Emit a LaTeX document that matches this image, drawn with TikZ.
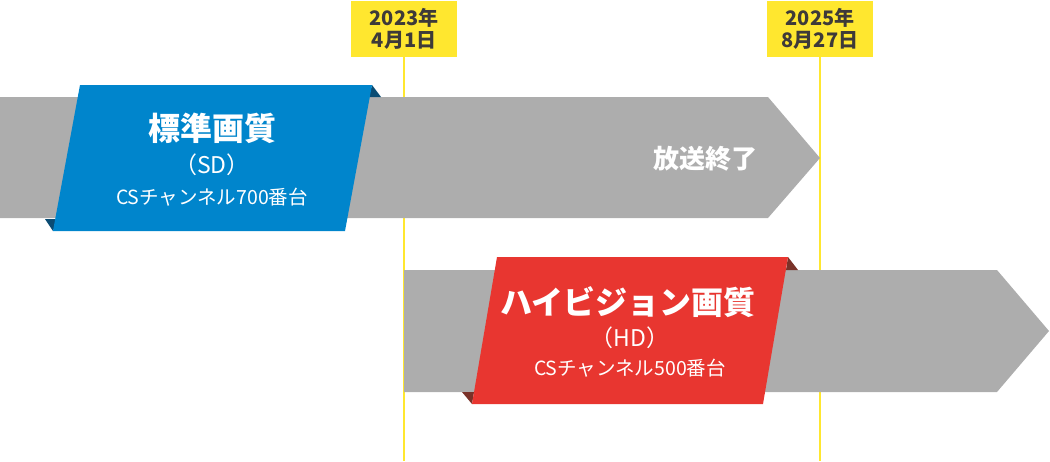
\documentclass[tikz,border=0pt]{standalone}
\usepackage{fontspec}
\setmainfont{Noto Sans CJK JP}
\definecolor{band}{HTML}{ADADAD}
\definecolor{sdblue}{HTML}{0085CC}
\definecolor{sdfold}{HTML}{0B4C73}
\definecolor{hdred}{HTML}{E83630}
\definecolor{hdfold}{HTML}{7A3229}
\definecolor{dateyel}{HTML}{FFE72F}
\definecolor{datetxt}{HTML}{3E3A39}
\begin{document}
\begin{tikzpicture}[x=1pt,y=-1pt,
  datebox/.style={fill=dateyel, text=datetxt, font=\bfseries\fontsize{20}{22}\selectfont,
    minimum width=106pt, minimum height=56pt, inner sep=0pt, align=center},
  dateline/.style={draw=dateyel, line width=1.6pt},
  titletxt/.style={text=white, font=\bfseries\fontsize{32}{36}\selectfont, inner sep=0pt},
  subtxt/.style={text=white, font=\fontsize{23}{26}\selectfont, inner sep=0pt},
  chantxt/.style={text=white, font=\fontsize{19.5}{22}\selectfont, inner sep=0pt},
  endtxt/.style={text=white, font=\bfseries\fontsize{26}{30}\selectfont, inner sep=0pt}]
\useasboundingbox (0,0) rectangle (1050,461);
% date labels
\node[datebox] (d1) at (404,29) {2023年\\4月1日};
\node[datebox] (d2) at (820,29) {2025年\\8月27日};
\coordinate (e1) at (404,461);
\coordinate (e2) at (820,461);
\draw[dateline] (d1.south) -- (e1);
\draw[dateline] (d2.south) -- (e2);
% gray bands
\fill[band] (0,97) -- (768,97) -- (820,158) -- (768,218) -- (0,218) -- cycle;
\fill[band] (404,270) -- (997,270) -- (1049,331) -- (997,392) -- (404,392) -- cycle;
% SD ribbon
\fill[sdfold] (372,85) -- (381,97) -- (369,97) -- cycle;
\fill[sdfold] (45,219) -- (57,219) -- (53,231) -- cycle;
\fill[sdblue] (80,85) -- (372,85) -- (345,231) -- (53,231) -- cycle;
% HD ribbon
\fill[hdfold] (788,257) -- (798,270) -- (786,270) -- cycle;
\fill[hdfold] (462,392) -- (474,392) -- (472,404) -- cycle;
\fill[hdred] (497,257) -- (788,257) -- (763,404) -- (472,404) -- cycle;
% texts
\node[titletxt] (sdt) at (212,128) {標準画質};
\node[subtxt] (sds) at (212,165) {（SD）};
\node[chantxt] (sdc) at (212,197) {CSチャンネル700番台};
\node[endtxt] (end) at (705,159) {放送終了};
\node[titletxt] (hdt) at (628,302) {ハイビジョン画質};
\node[subtxt] (hds) at (630,338) {（HD）};
\node[chantxt] (hdc) at (630,368) {CSチャンネル500番台};
\end{tikzpicture}
\end{document}
